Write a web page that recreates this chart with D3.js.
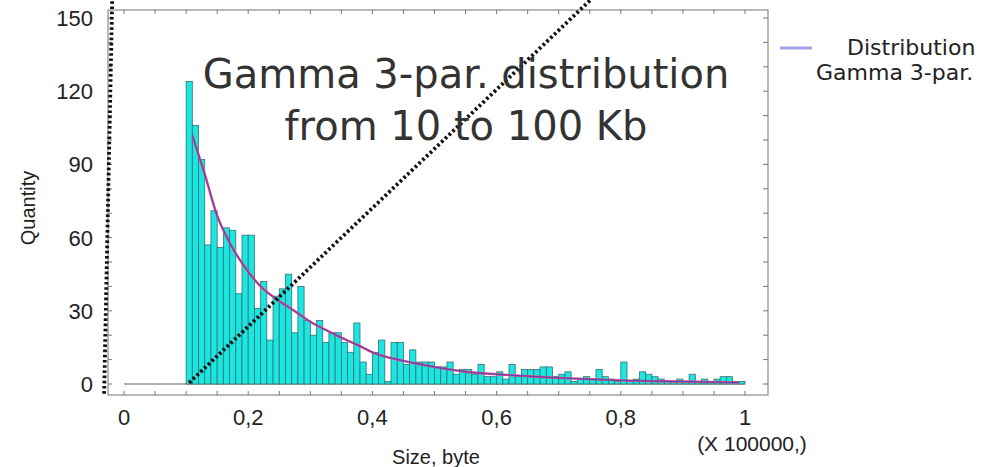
<!DOCTYPE html>
<html>
<head>
<meta charset="utf-8">
<style>
  body { margin: 0; background: #fff; }
  .tick-label { font: 22px "Liberation Sans", Arial, sans-serif; fill: #222; }
  .axis-title { font: 20px "Liberation Sans", Arial, sans-serif; fill: #222; }
  .title { font: 40px "DejaVu Sans", Verdana, sans-serif; fill: #333; }
  .legend { font: 22px "DejaVu Sans", Verdana, sans-serif; fill: #222; }
</style>
</head>
<body>
<script src="https://cdn.jsdelivr.net/npm/d3@7"></script>
<script>
// histogram: 90 bins of 1000 bytes from 10 Kb to 100 Kb (x in units of 100000)
var binStart = 0.1, binWidth = 0.01;
var counts = [124,106,92,57,71,56,64,63,37,61,
              61,31,42,18,36,39,45,21,40,26,
              20,26,17,21,21,17,13,25,9,4,
              13,18,1,17,17,8,14,9,9,9,
              7,7,9,4,6,6,4,8,3,3,
              5,2,8,3,6,6,6,7,7,3,
              4,5,1,2,3,2,6,3,2,1,
              9,1,2,5,4,3,2,1,1,2,
              1,4,1,2,1,2,3,3,1,1];

// fitted gamma 3-par. curve
var fitX = [0.11,0.13,0.15,0.17,0.20,0.22,0.25,0.28,0.30,0.33,0.35,0.38,0.40,0.45,0.50,0.55,0.60,0.65,0.70,0.80,0.90,0.99];
var fitY = [102,86,69,58,46,40,34,29,25.5,21.5,19,15.5,13,9.5,7,5,4,3.2,2.5,1.5,1,0.6];

// dotted lines (they run past the frame)
var dotA = [[0.105,0.5],[0.7516,157.5]];
var dotB = [[-0.032,-4],[-0.019,157.5]];

var xTicks = [0,0.2,0.4,0.6,0.8,1];
var xTickLabels = ["0","0,2","0,4","0,6","0,8","1"];
var yTicks = [0,30,60,90,120,150];

var width = 990, height = 467;
var frame = {left: 108, top: 10, right: 768, bottom: 395};

var x = d3.scaleLinear().domain([0,1]).range([124,745]);
var y = d3.scaleLinear().domain([0,150]).range([384,18]);

var svg = d3.select("body").append("svg")
    .attr("width", width)
    .attr("height", height);

// frame
svg.append("rect")
    .attr("x", frame.left).attr("y", frame.top)
    .attr("width", frame.right - frame.left)
    .attr("height", frame.bottom - frame.top)
    .attr("fill", "none").attr("stroke", "#8a8a8a").attr("stroke-width", 1.2);

// minor ticks every 0.05 on x, every 10 on y, pointing inward
var xMinor = d3.range(0, 1.0001, 0.05);
svg.selectAll(".xt-bot").data(xMinor).enter().append("line")
    .attr("x1", d => x(d)).attr("x2", d => x(d))
    .attr("y1", frame.bottom).attr("y2", frame.bottom - 4)
    .attr("stroke", "#777");
svg.selectAll(".xt-top").data(xMinor).enter().append("line")
    .attr("x1", d => x(d)).attr("x2", d => x(d))
    .attr("y1", frame.top).attr("y2", frame.top + 4)
    .attr("stroke", "#777");
var yMinor = d3.range(0, 151, 10);
svg.selectAll(".yt-l").data(yMinor).enter().append("line")
    .attr("x1", frame.left).attr("x2", frame.left + 4)
    .attr("y1", d => y(d)).attr("y2", d => y(d))
    .attr("stroke", "#777");
svg.selectAll(".yt-r").data(yMinor).enter().append("line")
    .attr("x1", frame.right).attr("x2", frame.right - 5)
    .attr("y1", d => y(d)).attr("y2", d => y(d))
    .attr("stroke", "#777");

// zero line under the bars
svg.append("line")
    .attr("x1", x(0)).attr("x2", x(1))
    .attr("y1", y(0)).attr("y2", y(0))
    .attr("stroke", "#b0b0b0").attr("stroke-width", 2);

// bars
svg.selectAll(".bar").data(counts).enter().append("rect")
    .attr("class", "bar")
    .attr("x", (d, i) => x(binStart + i * binWidth))
    .attr("width", x(binWidth) - x(0))
    .attr("y", d => y(d))
    .attr("height", d => y(0) - y(d))
    .attr("fill", "#1ae6e2")
    .attr("stroke", "#3a7070")
    .attr("stroke-width", 0.8);

// fitted curve: red under, blue on top
var fitPts = fitX.map((v, i) => [v, fitY[i]]);
var fitLine = d3.line().x(d => x(d[0])).y(d => y(d[1])).curve(d3.curveMonotoneX);
svg.append("path").datum(fitPts)
    .attr("d", fitLine).attr("fill", "none")
    .attr("stroke", "#e8407a").attr("stroke-width", 2.4);
svg.append("path").datum(fitPts)
    .attr("d", fitLine).attr("fill", "none")
    .attr("stroke", "#4848c8").attr("stroke-width", 1);

// dotted lines
var plain = d3.line().x(d => x(d[0])).y(d => y(d[1]));
[dotA, dotB].forEach(function(pts) {
  svg.append("path").datum(pts)
      .attr("d", plain).attr("fill", "none")
      .attr("stroke", "#111").attr("stroke-width", 3.8)
      .attr("stroke-dasharray", "2.6,2.6");
});

// tick labels
svg.selectAll(".xl").data(xTicks).enter().append("text")
    .attr("class", "tick-label")
    .attr("x", d => x(d)).attr("y", 425)
    .attr("text-anchor", "middle")
    .text((d, i) => xTickLabels[i]);
svg.selectAll(".yl").data(yTicks).enter().append("text")
    .attr("class", "tick-label")
    .attr("x", 93).attr("y", d => y(d) + 8)
    .attr("text-anchor", "end")
    .text(d => d);

svg.append("text").attr("class", "tick-label")
    .attr("x", 752).attr("y", 451)
    .attr("text-anchor", "middle")
    .style("font-size", "21px")
    .text("(X 100000,)");

svg.append("text").attr("class", "axis-title")
    .attr("x", 436).attr("y", 464)
    .attr("text-anchor", "middle")
    .text("Size, byte");

svg.append("text").attr("class", "axis-title")
    .attr("transform", "translate(35,208) rotate(-90)")
    .attr("text-anchor", "middle")
    .text("Quantity");

// title inside the plot
svg.append("text").attr("class", "title")
    .attr("x", 466).attr("y", 88)
    .attr("text-anchor", "middle")
    .text("Gamma 3-par. distribution");
svg.append("text").attr("class", "title")
    .attr("x", 466).attr("y", 140)
    .attr("text-anchor", "middle")
    .text("from 10 to 100 Kb");

// legend
svg.append("line")
    .attr("x1", 780).attr("x2", 812)
    .attr("y1", 48).attr("y2", 48)
    .attr("stroke", "#a4a4ec").attr("stroke-width", 3);
svg.append("text").attr("class", "legend")
    .attr("x", 847).attr("y", 55)
    .text("Distribution");
svg.append("text").attr("class", "legend")
    .attr("x", 816).attr("y", 80)
    .text("Gamma 3-par.");
</script>
</body>
</html>
